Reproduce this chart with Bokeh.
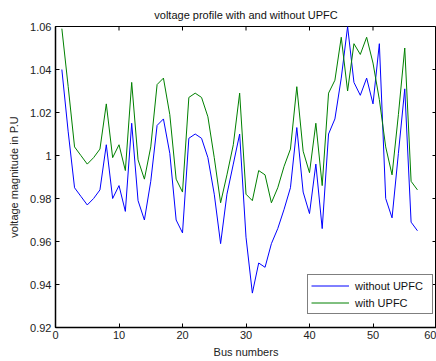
import math
from bokeh.plotting import figure
from bokeh.models import FixedTicker, Range1d, Legend, LegendItem
from bokeh.embed import file_html
from bokeh.resources import INLINE

buses = list(range(1, 58))
without_upfc = [1.040, 1.011, 0.985, 0.981, 0.977, 0.980, 0.984, 1.005, 0.980, 0.986,
                0.974, 1.015, 0.979, 0.970, 0.988, 1.014, 1.017, 1.001, 0.970, 0.964,
                1.008, 1.010, 1.008, 0.999, 0.982, 0.959, 0.982, 0.996, 1.010, 0.962,
                0.936, 0.950, 0.948, 0.959, 0.966, 0.975, 0.985, 1.013, 0.983, 0.973,
                0.996, 0.966, 1.010, 1.017, 1.036, 1.060, 1.034, 1.028, 1.036, 1.024,
                1.052, 0.980, 0.971, 1.001, 1.031, 0.969, 0.965]
with_upfc = [1.059, 1.032, 1.004, 1.000, 0.996, 0.999, 1.003, 1.024, 0.999, 1.005,
             0.993, 1.034, 0.998, 0.989, 1.004, 1.033, 1.036, 1.019, 0.989, 0.983,
             1.027, 1.029, 1.027, 1.018, 0.999, 0.978, 0.991, 1.005, 1.029, 0.982,
             0.979, 0.993, 0.991, 0.978, 0.985, 0.995, 1.003, 1.032, 1.002, 0.992,
             1.015, 0.986, 1.029, 1.035, 1.055, 1.030, 1.052, 1.047, 1.055, 1.043,
             1.026, 1.004, 0.991, 1.019, 1.050, 0.988, 0.984]

x_ticks = [0, 10, 20, 30, 40, 50, 60]
y_ticks = [0.92, 0.94, 0.96, 0.98, 1.0, 1.02, 1.04, 1.06]
y_labels = {0.92: "0.92", 0.94: "0.94", 0.96: "0.96", 0.98: "0.98", 1.0: "1",
            1.02: "1.02", 1.04: "1.04", 1.06: "1.06"}
X_MIN, X_MAX = 0, 60
Y_MIN, Y_MAX = 0.92, 1.06

FONT = "Liberation Sans"

p = figure(width=436, height=361, output_backend="svg", toolbar_location=None,
           x_range=Range1d(X_MIN, X_MAX), y_range=Range1d(Y_MIN, Y_MAX),
           min_border_left=55, min_border_right=0, min_border_top=26, min_border_bottom=34,
           title="voltage profile with and without UPFC")
p.background_fill_color = "white"
p.border_fill_color = "white"
p.outline_line_color = "black"
p.outline_line_width = 1
p.grid.visible = False

p.title.text_font = FONT
p.title.text_font_size = "11px"
p.title.text_font_style = "normal"
p.title.text_color = "#111111"
p.title.align = "center"
p.title.vertical_align = "top"
p.title.offset = 0
p.title.standoff = 7

for ax in (p.xaxis[0], p.yaxis[0]):
    ax.major_tick_in = 4
    ax.major_tick_out = 0
    ax.minor_tick_in = 0
    ax.minor_tick_out = 0
    ax.axis_line_color = "black"
    ax.axis_line_width = 1.5
    ax.major_label_text_font = FONT
    ax.major_label_text_font_size = "11px"
    ax.major_label_text_color = "#222222"
    ax.axis_label_text_font = FONT
    ax.axis_label_text_font_size = "11px"
    ax.axis_label_text_font_style = "normal"
    ax.axis_label_text_color = "#222222"

p.xaxis[0].ticker = FixedTicker(ticks=x_ticks)
p.yaxis[0].ticker = FixedTicker(ticks=y_ticks)
p.yaxis[0].major_label_overrides = y_labels
p.xaxis[0].axis_label = "Bus numbers"
p.yaxis[0].axis_label = "voltage magnitude in P.U"
p.xaxis[0].major_label_standoff = 3
p.yaxis[0].major_label_standoff = 4
p.xaxis[0].axis_label_standoff = 4
p.yaxis[0].axis_label_standoff = 7

# inward ticks on the top and right edges of the box (MATLAB style)
p.ray(x=x_ticks, y=[Y_MAX] * len(x_ticks), length=4, length_units="screen",
      angle=-math.pi / 2, line_color="black", line_width=1)
p.ray(x=[X_MAX] * len(y_ticks), y=y_ticks, length=4, length_units="screen",
      angle=math.pi, line_color="black", line_width=1)

r1 = p.line(buses, without_upfc, line_color="#0000FF", line_width=1)
r2 = p.line(buses, with_upfc, line_color="#008000", line_width=1)

legend = Legend(items=[LegendItem(label="without UPFC", renderers=[r1]),
                       LegendItem(label="with UPFC", renderers=[r2])],
                location=(252, 13), margin=0, padding=3, spacing=2,
                glyph_width=38, glyph_height=15, label_height=15, label_width=74,
                label_standoff=6,
                label_text_font=FONT, label_text_font_size="11px",
                label_text_color="#111111",
                border_line_color="black", border_line_width=1,
                background_fill_alpha=1.0)
p.add_layout(legend, "center")

open("out.html", "w").write(file_html(p, INLINE))
